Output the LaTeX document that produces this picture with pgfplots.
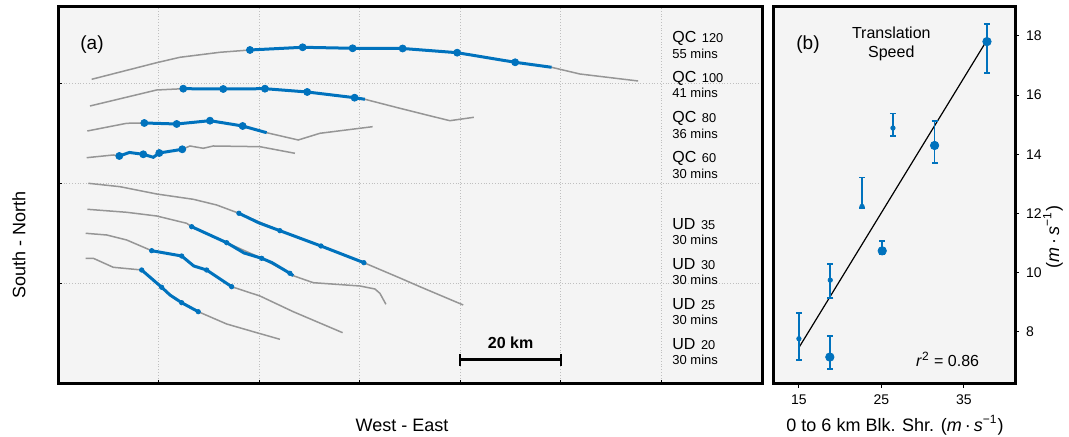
\documentclass[border=0pt]{standalone}
\usepackage{pgfplots}
\pgfplotsset{compat=1.18}
\usepackage{fontspec}
\setmainfont{Liberation Sans}
\definecolor{mblue}{RGB}{0,114,189}
\definecolor{tgray}{RGB}{150,150,150}
\definecolor{bgc}{RGB}{244,244,244}
\pgfplotsset{
  gline/.style={tgray, line width=0.75pt},
  bline/.style={mblue, line width=1.5pt},
  qcm/.style={only marks, mark=*, mark size=1.75pt, mark options={fill=mblue, draw=mblue}, mblue},
  udm/.style={only marks, mark=*, mark size=1.1pt, mark options={fill=mblue, draw=mblue}, mblue},
}
\newcommand{\lab}[3]{{\fontsize{8}{8}\selectfont #1} {\fontsize{6.4}{6.4}\selectfont #2}}
\begin{document}
\begin{tikzpicture}[x=1pt,y=1pt]
\useasboundingbox (0,0) rectangle (534.5,218.5);
\begin{axis}[
  at={(29pt,26.5pt)}, anchor=south west, scale only axis,
  width=352pt, height=188.5pt,
  xmin=0, xmax=140, ymin=0, ymax=75.4,
  xtick={20,40,...,120}, ytick={20,40,60},
  xticklabels={}, yticklabels={},
  tick pos=left, tick align=inside, major tick length=2pt,
  tick style={black, line width=0.5pt},
  grid=major, grid style={densely dotted, black!25, line width=0.5pt},
  axis background/.style={fill=bgc},
  axis line style={line width=1.5pt},
  clip=false,
]
% QC120
\addplot[gline] coordinates {(6.70,60.94) (19.62,64.26) (24.25,65.34) (32.21,66.34) (38.17,66.8) (48.65,67.34) (58.59,67.14) (68.53,67.1) (79.38,66.26) (90.91,64.34) (98.15,63.34) (103.77,62.0) (115.36,60.6)};
\addplot[bline] coordinates {(38.17,66.8) (48.65,67.34) (58.59,67.14) (68.53,67.1) (79.38,66.26) (90.91,64.34) (98.15,63.34)};
\addplot[qcm] coordinates {(38.17,66.8) (48.65,67.34) (58.59,67.14) (68.53,67.1) (79.38,66.26) (90.91,64.34)};
% QC100
\addplot[gline] coordinates {(6.36,55.6) (19.62,58.8) (24.91,59.06) (32.86,59.0) (41.15,59.06) (49.56,58.4) (58.98,57.26) (61.03,56.94) (67.99,55.14) (73.30,53.8) (77.93,52.66) (82.70,53.34)};
\addplot[bline] coordinates {(24.91,59.06) (32.86,59.0) (41.15,59.06) (49.56,58.4) (58.98,57.26) (61.03,56.94)};
\addplot[qcm] coordinates {(24.91,59.06) (32.86,59.0) (41.15,59.06) (49.56,58.4) (58.98,57.26)};
% QC80
\addplot[gline] coordinates {(5.83,50.6) (13.66,52.14) (17.16,52.2) (23.60,52.0) (30.22,52.66) (36.72,51.6) (41.49,50.26) (47.77,48.8) (52.09,50.14) (62.56,51.46)};
\addplot[bline] coordinates {(17.16,52.2) (23.60,52.0) (30.22,52.66) (36.72,51.6) (41.49,50.26)};
\addplot[qcm] coordinates {(17.16,52.2) (23.60,52.0) (30.22,52.66) (36.72,51.6)};
% QC60
\addplot[gline] coordinates {(5.71,45.26) (10.99,45.8) (12.19,45.6) (14.2,46.3) (16.96,45.94) (18.95,45.34) (20.14,46.2) (24.71,46.94) (26.24,47.6) (28.89,47.14) (30.87,47.6) (40.16,47.46) (47.11,46.14)};
\addplot[bline] coordinates {(12.19,45.6) (14.2,46.3) (16.96,45.94) (18.95,45.34) (20.14,46.2) (24.71,46.94)};
\addplot[qcm] coordinates {(12.19,45.6) (16.96,45.94) (20.14,46.2) (24.71,46.94)};
% UD35
\addplot[gline] coordinates {(6.02,40.14) (12.33,39.46) (19.62,38.0) (26.9,36.94) (31.55,35.8) (35.98,34.14) (44.13,30.66) (52.29,27.6) (60.83,24.26) (67.99,21.2) (71.97,19.46) (80.58,15.8)};
\addplot[bline] coordinates {(35.98,34.14) (40.0,32.2) (44.13,30.66) (52.29,27.6) (60.83,24.26)};
\addplot[udm] coordinates {(35.98,34.14) (44.13,30.66) (52.29,27.6) (60.83,24.26)};
% UD30
\addplot[gline] coordinates {(5.83,34.94) (13.66,34.34) (19.62,33.6) (25.59,32.14) (26.58,31.46) (33.54,28.26) (40.5,25.14) (46.12,22.14) (46.78,21.66) (50.75,20.26) (60.04,19.6) (63.02,19.0) (64.01,18.14) (65.21,15.94)};
\addplot[bline] coordinates {(26.58,31.46) (33.54,28.26) (37.0,26.2) (40.5,25.14) (42.5,24.3) (46.12,22.14) (46.78,21.66)};
\addplot[udm] coordinates {(26.58,31.46) (33.54,28.26) (40.5,25.14) (46.12,22.14)};
% UD25
\addplot[gline] coordinates {(5.51,30.14) (9.68,29.8) (13.66,28.8) (18.63,26.66) (24.59,25.6) (27.0,23.6) (29.56,22.8) (34.53,19.46) (40.16,17.6) (46.78,14.46) (56.6,10.26)};
\addplot[bline] coordinates {(18.63,26.66) (24.59,25.6) (27.0,23.6) (29.56,22.8) (34.53,19.46)};
\addplot[udm] coordinates {(18.63,26.66) (24.59,25.6) (29.56,22.8) (34.53,19.46)};
% UD20
\addplot[gline] coordinates {(5.51,25.14) (7.02,25.14) (10.99,23.34) (16.64,22.8) (20.62,19.34) (22.27,17.8) (24.59,16.26) (27.89,14.46) (33.54,12.0) (38.83,10.46) (44.13,8.94)};
\addplot[bline] coordinates {(16.64,22.8) (20.62,19.34) (22.27,17.8) (24.59,16.26) (27.89,14.46)};
\addplot[udm] coordinates {(16.64,22.8) (20.62,19.34) (24.59,16.26) (27.89,14.46)};
% scale bar
\addplot[black, line width=1.5pt, mark=|, mark size=3pt, mark options={line width=1.2pt}] coordinates {(80,4.8) (100,4.8)};
\node[font=\bfseries\fontsize{8}{8}\selectfont] at (axis cs:90,8.2) {20 km};
\node[font=\fontsize{9.5}{9.5}\selectfont] at (axis cs:6.76,67.8) {(a)};
% labels
\node[anchor=west, inner sep=0] at (axis cs:122.1,69.1) {\lab{QC}{120}{}};
\node[anchor=west, inner sep=0, font=\fontsize{6.5}{6.5}\selectfont] at (axis cs:122.1,66.1) {55 mins};
\node[anchor=west, inner sep=0] at (axis cs:122.1,61.1) {\lab{QC}{100}{}};
\node[anchor=west, inner sep=0, font=\fontsize{6.5}{6.5}\selectfont] at (axis cs:122.1,58.3) {41 mins};
\node[anchor=west, inner sep=0] at (axis cs:122.1,53.1) {\lab{QC}{80}{}};
\node[anchor=west, inner sep=0, font=\fontsize{6.5}{6.5}\selectfont] at (axis cs:122.1,50.1) {36 mins};
\node[anchor=west, inner sep=0] at (axis cs:122.1,45.1) {\lab{QC}{60}{}};
\node[anchor=west, inner sep=0, font=\fontsize{6.5}{6.5}\selectfont] at (axis cs:122.1,42.1) {30 mins};
\node[anchor=west, inner sep=0] at (axis cs:122.1,32.0) {\lab{UD}{35}{}};
\node[anchor=west, inner sep=0, font=\fontsize{6.5}{6.5}\selectfont] at (axis cs:122.1,28.8) {30 mins};
\node[anchor=west, inner sep=0] at (axis cs:122.1,24.0) {\lab{UD}{30}{}};
\node[anchor=west, inner sep=0, font=\fontsize{6.5}{6.5}\selectfont] at (axis cs:122.1,20.9) {30 mins};
\node[anchor=west, inner sep=0] at (axis cs:122.1,16.0) {\lab{UD}{25}{}};
\node[anchor=west, inner sep=0, font=\fontsize{6.5}{6.5}\selectfont] at (axis cs:122.1,12.9) {30 mins};
\node[anchor=west, inner sep=0] at (axis cs:122.1,8.0) {\lab{UD}{20}{}};
\node[anchor=west, inner sep=0, font=\fontsize{6.5}{6.5}\selectfont] at (axis cs:122.1,4.8) {30 mins};
\end{axis}

\begin{axis}[
  at={(386.5pt,26.5pt)}, anchor=south west, scale only axis,
  width=121pt, height=188.5pt,
  xmin=11.86, xmax=41.2, ymin=6.24, ymax=18.98,
  xtick={15,25,35}, ytick={8,10,...,18},
  yticklabel pos=right, ytick pos=right, xtick pos=bottom,
  tick align=outside, major tick length=2pt,
  tick style={black, line width=0.5pt},
  /pgf/number format/assume math mode=true,
  ticklabel style={font=\fontsize{7}{7}\selectfont},
  axis background/.style={fill=bgc},
  axis line style={line width=1.5pt},
  clip=false,
]
\addplot[black, line width=0.6pt] coordinates {(15.0,7.47) (37.8,17.86)};
\addplot[only marks, mark=*, mark size=1.1pt, mblue,
  error bars/.cd, y dir=both, y explicit,
  error bar style={line width=0.9pt, mblue},
  error mark options={rotate=90, mark size=1.5pt, line width=0.9pt, mblue}]
  table[x=x, y=y, y error plus=ep, y error minus=em] {
x y ep em
15.0 7.77 0.86 0.71
18.8 9.75 0.54 0.61
22.65 12.24 0.98 0.06
26.4 14.89 0.49 0.28
};
\addplot[only marks, mark=*, mark size=2.1pt, mblue,
  error bars/.cd, y dir=both, y explicit,
  error bar style={line width=0.9pt, mblue},
  error mark options={rotate=90, mark size=1.5pt, line width=0.9pt, mblue}]
  table[x=x, y=y, y error plus=ep, y error minus=em] {
x y ep em
18.75 7.15 0.71 0.39
25.1 10.74 0.33 0.12
31.45 14.3 0.84 0.59
37.8 17.81 0.6 1.05
};
\node[font=\fontsize{9.5}{9.5}\selectfont] at (axis cs:16.1,17.7) {(b)};
\node[font=\fontsize{8}{9.2}\selectfont, align=center] at (axis cs:26.2,17.73) {Translation\\Speed};
\node[anchor=east, font=\fontsize{8}{8}\selectfont] at (axis cs:37.7,7.08) {\textit{r}\textsuperscript{2} = 0.86};
\end{axis}
\node[rotate=90, font=\fontsize{9}{9}\selectfont] at (9.5,96) {South - North};
\node[font=\fontsize{9}{9}\selectfont] at (201,6) {West - East};
\node[font=\fontsize{9}{9}\selectfont] at (447.5,6) {0 to 6 km Blk. Shr. (\textit{m}\,·\,\textit{s}\textsuperscript{−1})};
\node[rotate=90, font=\fontsize{9}{9}\selectfont] at (526.5,100) {(\textit{m}\,·\,\textit{s}\textsuperscript{−1})};
\end{tikzpicture}
\end{document}
